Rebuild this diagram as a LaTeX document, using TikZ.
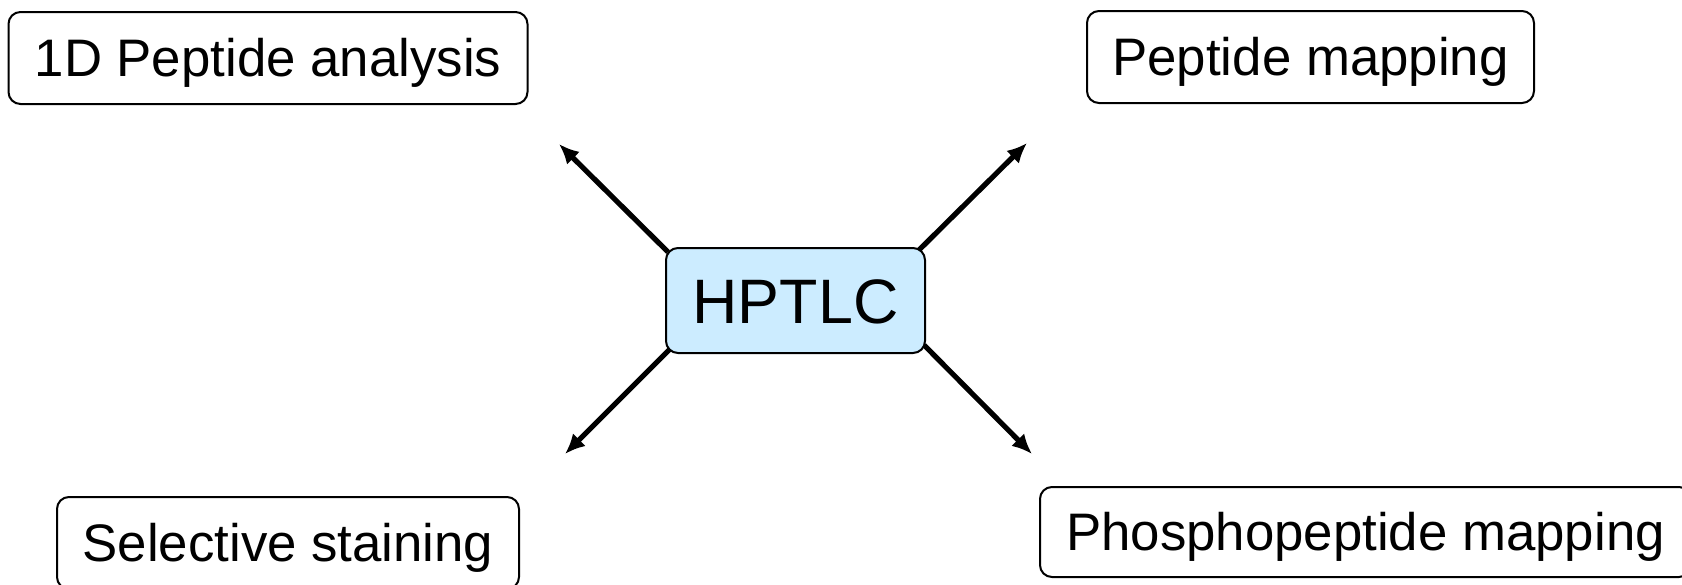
\documentclass[tikz,border=0pt]{standalone}
\usepackage{fontspec}
\setmainfont{Liberation Sans}
\usetikzlibrary{arrows.meta}
\definecolor{hpblue}{HTML}{CCECFF}
\tikzset{
  box/.style={draw=black, line width=1pt, rounded corners=6pt, inner sep=0pt,
    text height=18.9pt, text depth=0pt,
    font=\fontsize{26.4}{30}\selectfont},
  hub/.style={box, fill=hpblue, text height=22.5pt, font=\fontsize{31.4}{36}\selectfont},
  arr/.style={line width=2.6pt, -{Latex[length=10pt,width=9pt]}}
}
\begin{document}
\begin{tikzpicture}[x=0.5pt,y=-0.5pt]
\useasboundingbox (0,0) rectangle (1682,584);
\node[box, minimum width=259.5pt, minimum height=46pt] (pa) at (268,58) {1D Peptide analysis};
\node[box, minimum width=223.5pt, minimum height=46pt] (pm) at (1310.5,57) {Peptide mapping};
\node[box, minimum width=231pt, minimum height=46pt] (ss) at (288,543) {Selective staining};
\node[box, minimum width=325.5pt, minimum height=45pt] (ppm) at (1365.5,532) {Phosphopeptide mapping};
\coordinate (tl) at (559,144);
\coordinate (tr) at (1027,143);
\coordinate (bl) at (565,454);
\coordinate (br) at (1032,454);
\coordinate (sl) at (668,252);
\coordinate (sr) at (917,252);
\coordinate (sbl) at (673,346);
\coordinate (sbr) at (924,345);
\draw[arr] (sl) -- (tl);
\draw[arr] (sr) -- (tr);
\draw[arr] (sbl) -- (bl);
\draw[arr] (sbr) -- (br);
\node[hub, minimum width=129.5pt, minimum height=52.5pt] (h) at (795.5,300.5) {HPTLC};
\end{tikzpicture}
\end{document}
